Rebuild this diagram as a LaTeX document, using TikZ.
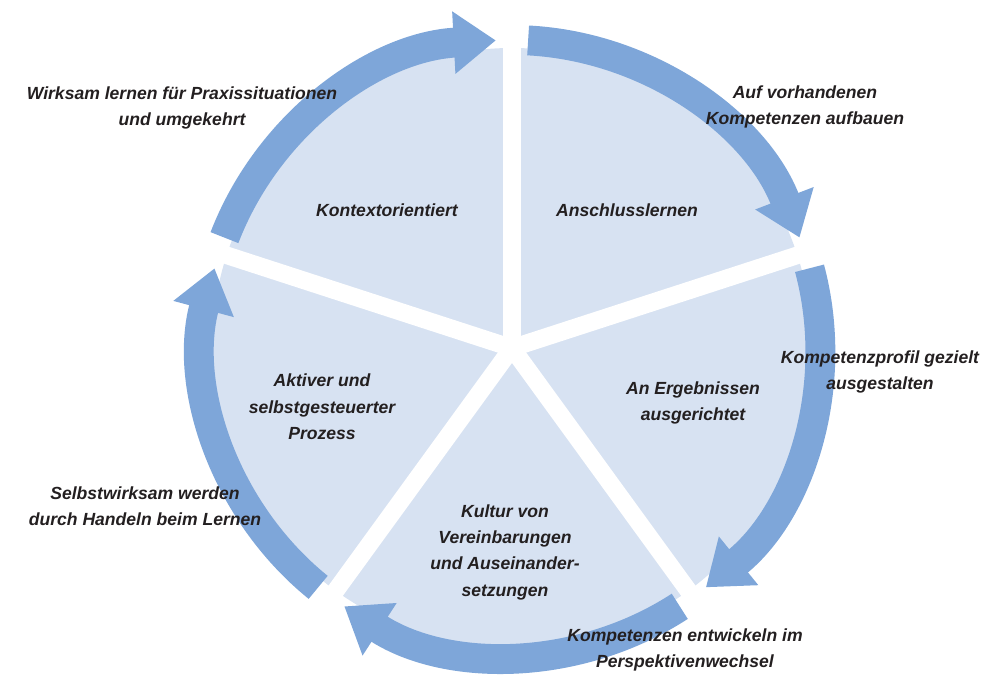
\documentclass[tikz,border=0pt]{standalone}
\usepackage{fontspec}
\setmainfont{Liberation Sans}
\usetikzlibrary{arrows.meta,calc}
\definecolor{ringblue}{HTML}{7EA6D9}
\definecolor{discblue}{HTML}{D7E2F2}
\definecolor{txt}{HTML}{231F20}

\begin{document}
\begin{tikzpicture}[x=0.02cm,y=0.02cm,
    lbl/.style={align=center,text=txt,font=\fontsize{10}{15}\selectfont\bfseries\itshape},
    ringarrow/.style={draw=ringblue,line width=17pt,
        -{Triangle[length=24pt,width=34pt]}},
    gapline/.style={draw=white,line width=10pt}]
    \useasboundingbox (0,0) rectangle (1000,684);
    \coordinate (c) at (512,336);
    % disc and gaps
    \fill[discblue] (c) circle[radius=300];
    \foreach \g in {90,18,-54,-126,162}
        \draw[gapline] (c) -- ($(c)+(\g:345)$);
    % ring arrows
    \foreach \a/\b in {87/21,15/-51,-57/-123,-129/-195,159/93}
        \draw[ringarrow] ($(c)+(\a:308)$) arc[start angle=\a,end angle=\b,radius=308];
    % labels
    \node[lbl] (kontext) at (387,474) {Kontextorientiert};
    \node[lbl] (anschluss) at (627,474) {Anschlusslernen};
    \node[lbl] (ergebnis) at (693,281) {An Ergebnissen\\ausgerichtet};
    \node[lbl] (aktiv) at (322,277) {Aktiver und\\selbstgesteuerter\\Prozess};
    \node[lbl] (kultur) at (505,132) {Kultur von\\Vereinbarungen\\und Auseinander-\\setzungen};
    \node[lbl] (wirksam) at (182,576) {Wirksam lernen für Praxissituationen\\und umgekehrt};
    \node[lbl] (aufbauen) at (805,577) {Auf vorhandenen\\Kompetenzen aufbauen};
    \node[lbl] (profil) at (880,312) {Kompetenzprofil gezielt\\ausgestalten};
    \node[lbl] (selbst) at (145,178) {Selbstwirksam werden\\durch Handeln beim Lernen};
    \node[lbl] (perspektive) at (685,34) {Kompetenzen entwickeln im\\Perspektivenwechsel};
\end{tikzpicture}
\end{document}
